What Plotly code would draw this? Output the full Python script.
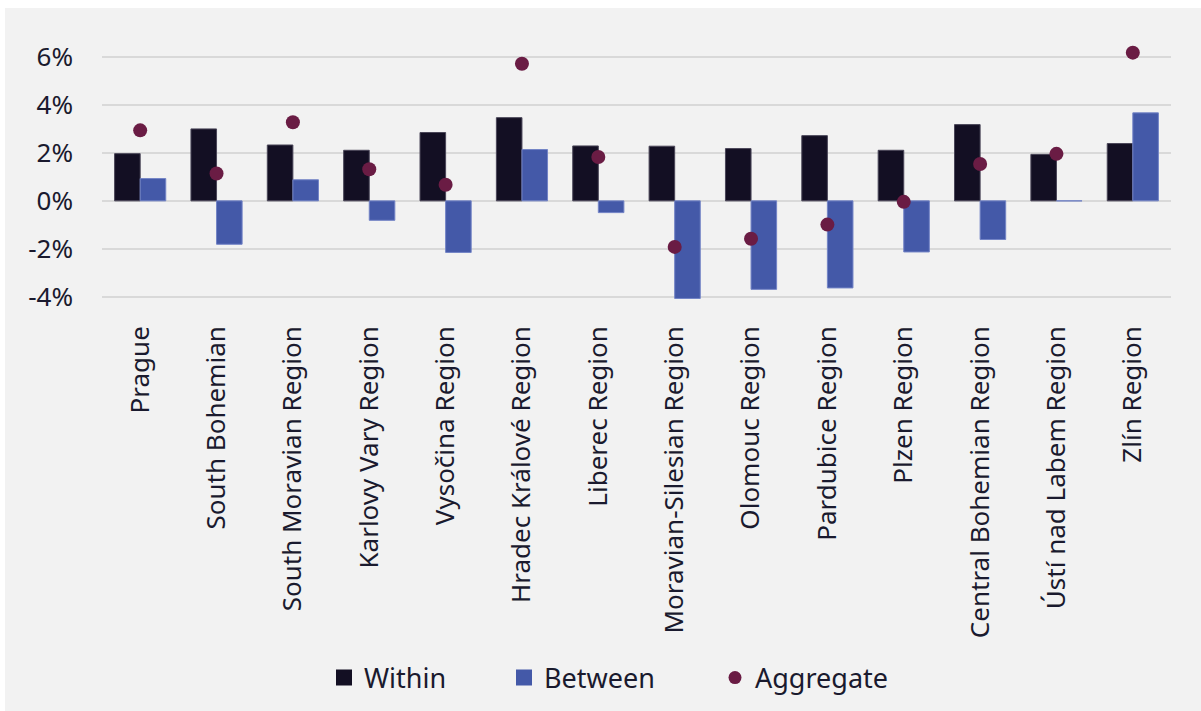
import plotly.graph_objects as go

# Regional decomposition of growth: within-region vs between-region effects
regions = [
    "Prague", "South Bohemian", "South Moravian Region", "Karlovy Vary Region",
    "Vysočina Region", "Hradec Králové Region", "Liberec Region",
    "Moravian-Silesian Region", "Olomouc Region", "Pardubice Region",
    "Plzen Region", "Central Bohemian Region", "Ústí nad Labem Region", "Zlín Region",
]
within = [1.97, 3.00, 2.33, 2.11, 2.85, 3.47, 2.29, 2.28, 2.18, 2.72, 2.11, 3.18, 1.94, 2.39]
between = [0.93, -1.81, 0.88, -0.81, -2.15, 2.14, -0.49, -4.07, -3.69, -3.63, -2.13, -1.61, 0.0, 3.67]
aggregate = [2.94, 1.14, 3.28, 1.32, 0.67, 5.72, 1.83, -1.92, -1.58, -0.99, -0.04, 1.54, 1.96, 6.18]

y_ticks = [-4, -2, 0, 2, 4, 6]
y_tick_text = ["-4%", "-2%", "0%", "2%", "4%", "6%"]

FONT = "Noto Sans"
TEXT = "#1a1a2e"
C_WITHIN = "#130f23"
C_BETWEEN = "#4459a8"
C_AGG = "#6a1c44"

# plot area geometry (px)
W, H = 1201, 711
L, R, T, B = 102, 30, 21, 407
pw, ph = W - L - R, H - T - B


def px_x(p):
    return (p - L) / pw


def px_y(p):
    return (H - B - p) / ph


fig = go.Figure()
fig.add_trace(go.Bar(
    x=regions, y=within, name="Within", showlegend=False,
    marker=dict(color=C_WITHIN, line=dict(color="#4a4658", width=1)),
))
fig.add_trace(go.Bar(
    x=regions, y=between, name="Between", showlegend=False,
    marker=dict(color=C_BETWEEN, line=dict(color="#7384c6", width=1)),
))
fig.add_trace(go.Scatter(
    x=regions, y=aggregate, name="Aggregate", mode="markers", showlegend=False,
    marker=dict(color=C_AGG, size=14, symbol="circle"),
))

# legend keys (square swatches for the bar series, a dot for the aggregate)
legend_keys = [
    ("Within", "square", 16, C_WITHIN, "legend", 324),
    ("Between", "square", 16, C_BETWEEN, "legend2", 504),
    ("Aggregate", "circle", 13, C_AGG, "legend3", 715),
]
legend_layout = {}
for name, sym, size, color, lg, left_px in legend_keys:
    fig.add_trace(go.Scatter(
        x=[None], y=[None], name=name, mode="markers", legend=lg,
        marker=dict(color=color, size=size, symbol=sym),
    ))
    legend_layout[lg] = dict(
        orientation="h", x=px_x(left_px), xanchor="left",
        y=px_y(678), yanchor="middle",
        font=dict(family=FONT, size=27, color=TEXT),
        bgcolor="rgba(0,0,0,0)",
        itemwidth=30,
    )

fig.update_layout(
    width=W, height=H,
    margin=dict(l=L, r=R, t=T, b=B, pad=0, autoexpand=False),
    paper_bgcolor="#f2f2f2",
    plot_bgcolor="#f2f2f2",
    barmode="group",
    bargap=0.33,
    bargroupgap=0,
    font=dict(family=FONT, size=26, color=TEXT),
    showlegend=True,
    xaxis=dict(
        range=[-0.5, len(regions) - 0.5],
        tickangle=-90,
        showgrid=False,
        zeroline=False,
        showline=False,
        ticks="",
        ticklabelstandoff=16,
        tickfont=dict(family=FONT, size=26, color=TEXT),
    ),
    yaxis=dict(
        range=[-4.3, 7.5],
        tickvals=y_ticks,
        ticktext=y_tick_text,
        showgrid=True,
        gridcolor="#d9d9d9",
        gridwidth=2,
        zeroline=False,
        showline=False,
        ticks="",
        ticklabelstandoff=28,
        tickfont=dict(family=FONT, size=26, color=TEXT),
    ),
    shapes=[
        dict(type="rect", xref="paper", yref="paper", layer="below",
             x0=px_x(0), x1=px_x(W), y0=px_y(8), y1=px_y(0),
             fillcolor="white", line=dict(width=0)),
        dict(type="rect", xref="paper", yref="paper", layer="below",
             x0=px_x(0), x1=px_x(5), y0=px_y(H), y1=px_y(0),
             fillcolor="white", line=dict(width=0)),
    ],
    **legend_layout,
)

fig.write_html("out.html")
